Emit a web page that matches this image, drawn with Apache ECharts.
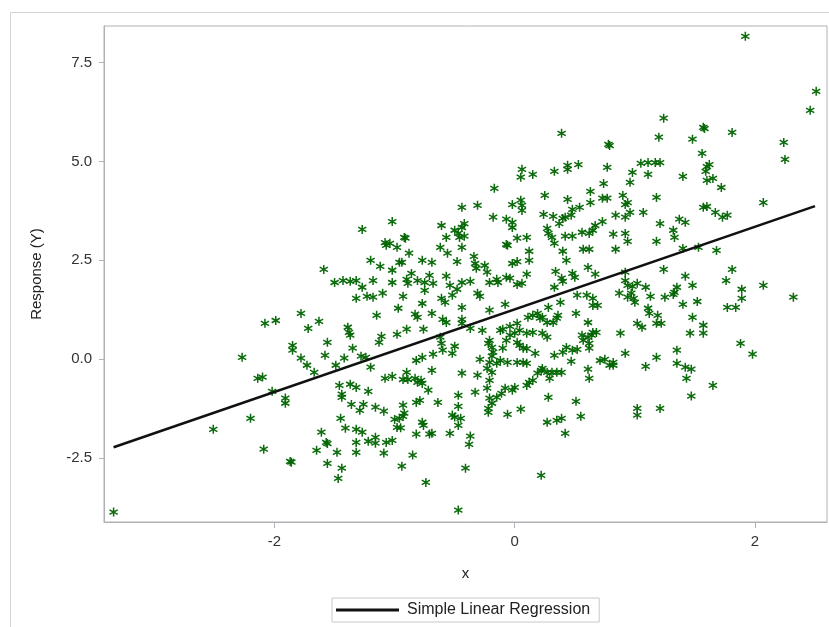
<!DOCTYPE html>
<html><head><meta charset="utf-8">
<script src="https://cdn.jsdelivr.net/npm/echarts@6/dist/echarts.min.js"></script>
<style>html,body{margin:0;padding:0;background:#fff}#chart{width:829px;height:627px}</style>
</head><body><div id="chart"></div>
<script>
// observations, grouped by area of the plot: [x, y]
const obsLeft = [[-1.27,3.28],[-1.08,2.95],[-1.07,2.88],[-1.20,2.50],[-1.12,2.35],[-1.59,2.27],[-1.50,1.94],[-1.43,1.99],[-1.37,1.97],[-1.32,1.99],[-1.18,1.99],[-1.27,1.82],
[-1.32,1.54],[-1.23,1.59],[-1.18,1.57],[-1.10,1.67],[-1.15,1.11],[-1.78,1.16],[-2.08,0.91],[-1.99,0.98],[-1.72,0.78],[-1.63,0.96],[-1.39,0.81],[-1.38,0.68],[-1.37,0.61],[-1.11,0.58],[-1.13,0.43],[-1.56,0.43],[-1.85,0.35],[-1.85,0.23],[-1.35,0.28],[-1.58,0.10],[-1.42,0.03],[-1.28,0.08],[-1.24,0.05],[-1.78,0.03],[-1.73,-0.15],[-1.49,-0.15],[-1.20,-0.20],[-2.27,0.05],[-1.67,-0.33],[-2.14,-0.48],[-2.10,-0.45],[-1.08,-0.48],[-2.02,-0.81],[-1.46,-0.66],[-1.37,-0.63],[-1.32,-0.71],[-1.22,-0.81],[-1.44,-0.88],[-1.44,-0.96],[-1.91,-0.98],[-1.91,-1.11],[-1.36,-1.14],[-1.26,-1.14],[-1.29,-1.29],[-1.16,-1.21],[-1.09,-1.31],[-2.20,-1.49],[-1.45,-1.49],[-2.51,-1.77],[-1.41,-1.74],[-1.32,-1.77],[-1.27,-1.84],[-1.61,-1.84],[-1.22,-2.07],[-1.16,-1.97],[-1.16,-2.12],[-1.07,-2.10],[-2.09,-2.27],[-1.65,-2.30],[-1.57,-2.10],[-1.56,-2.13],[-1.48,-2.35],[-1.32,-2.10],[-1.32,-2.35],[-1.09,-2.37],[-1.87,-2.58],[-1.86,-2.60],[-1.56,-2.63],[-1.44,-2.75],[-1.47,-3.01],[-3.34,-3.86]];
const obsCentreUpper = [[0.39,5.71],[0.78,5.43],[0.79,5.40],[0.77,4.85],[0.06,4.80],[0.05,4.60],[0.15,4.67],[0.33,4.75],[0.44,4.90],[0.44,4.80],[0.53,4.92],[-0.17,4.32],[0.63,4.24],[0.25,4.14],[0.74,4.44],[0.44,4.04],[0.73,4.07],[0.77,4.07],[0.63,3.96],[0.05,4.02],[0.06,3.89],[0.06,3.76],[-0.02,3.91],[-0.44,3.84],[-0.31,3.89],[0.54,3.84],[0.48,3.79],[-0.18,3.59],[-0.07,3.54],[-0.02,3.46],[-0.02,3.33],[0.24,3.66],[0.32,3.61],[0.40,3.56],[0.42,3.59],[0.37,3.43],[0.47,3.64],[0.73,3.48],[-1.02,3.48],[-0.61,3.38],[-0.42,3.43],[-0.44,3.33],[-0.50,3.26],[-0.47,3.18],[-0.46,3.08],[-0.42,3.11],[-0.57,3.08],[-0.92,3.08],[-0.91,3.06],[0.02,3.06],[0.10,3.08],[0.27,3.31],[0.28,3.18],[0.31,3.08],[0.33,2.93],[0.42,3.11],[0.48,3.11],[0.56,3.21],[0.62,3.18],[0.65,3.26],[0.67,3.38],[-0.98,2.83],[-1.04,2.93],[-0.62,2.83],[-0.44,2.83],[-0.07,2.90],[-0.06,2.88],[0.12,2.73],[0.57,2.78],[0.62,2.78],[0.40,2.73],[-0.88,2.68],[-0.96,2.45],[-0.94,2.45],[-0.56,2.68],[-0.77,2.50],[-0.69,2.45],[-0.48,2.47],[-0.34,2.60],[-0.33,2.42],[-0.32,2.30],[-0.25,2.37],[-0.23,2.20],[-0.02,2.42],[0.02,2.47],[0.12,2.50],[0.43,2.50],[0.61,2.32],[-1.02,2.25],[-0.86,2.17],[-0.57,2.10],[0.34,2.22],[0.48,2.17],[0.50,2.07],[0.67,2.15],[-0.90,2.02],[-0.89,1.92],[-0.81,1.99],[-0.75,1.94],[-0.71,2.12],[-0.68,1.92],[-0.44,1.94],[-0.37,1.97],[-0.21,1.94],[-0.15,2.02],[-0.14,1.94],[0.02,1.89],[0.06,1.92],[0.10,2.15],[0.39,2.05],[-1.02,1.94],[-0.54,1.87],[-0.07,2.07],[-0.04,2.05],[0.33,1.82],[0.40,1.97]];
const obsCentreLower = [[-0.93,1.59],[-0.75,1.74],[-0.61,1.54],[-0.58,1.44],[-0.52,1.62],[-0.77,1.41],[-0.97,1.29],[-0.44,1.31],[-0.31,1.67],[-0.29,1.59],[-0.21,1.24],[-0.08,1.39],[-0.83,1.14],[-0.81,1.06],[-0.69,1.16],[-0.60,1.01],[-0.57,0.93],[-0.44,1.01],[-0.44,0.91],[-0.37,0.78],[-0.27,0.73],[-0.98,0.63],[-0.90,0.76],[-0.76,0.76],[-0.62,0.56],[-0.61,0.40],[-0.60,0.23],[-0.52,0.15],[-0.50,0.33],[-0.68,0.13],[-0.77,0.05],[-0.82,-0.03],[-0.21,0.48],[-0.22,0.40],[-0.19,0.30],[-0.18,0.18],[-0.12,0.73],[-0.10,0.76],[-0.04,0.83],[-0.07,0.48],[-0.04,0.61],[0.00,0.66],[-0.10,0.28],[0.02,0.43],[0.04,0.35],[0.07,0.28],[0.10,0.27],[0.02,0.91],[0.04,0.73],[0.11,1.06],[0.15,1.11],[0.19,1.16],[0.21,1.04],[0.23,1.06],[0.27,0.93],[0.32,0.93],[0.35,1.04],[0.36,1.11],[0.10,0.66],[0.15,0.68],[0.23,0.66],[0.27,0.56],[0.17,0.15],[0.07,-0.08],[0.10,-0.10],[0.02,-0.08],[-0.06,-0.08],[-0.12,-0.03],[-0.15,-0.10],[-0.19,0.08],[-0.21,-0.08],[-0.29,0.00],[-0.23,-0.23],[-0.19,-0.33],[-0.21,-0.53],[-0.44,-0.35],[-0.31,-0.40],[-0.69,-0.28],[-0.90,-0.33],[-0.93,-0.51],[-0.89,-0.51],[-0.83,-0.48],[-0.78,-0.53],[-0.77,-0.61],[-0.81,-0.58],[-1.02,-0.43],[-0.72,-0.78],[-0.79,-1.04],[-0.82,-1.09],[-0.64,-1.09],[-0.93,-1.16],[-0.92,-1.36],[-0.93,-1.44],[-0.96,-1.49],[-1.00,-1.52],[-0.98,-1.72],[-0.95,-1.73],[-0.77,-1.59],[-0.76,-1.67],[-0.82,-1.89],[-0.69,-1.87],[-0.71,-1.89],[-1.02,-2.05],[-0.47,-0.91],[-0.47,-1.19],[-0.52,-1.41],[-0.50,-1.46],[-0.45,-1.49],[-0.47,-1.67],[-0.54,-1.87],[-0.37,-1.94],[-0.38,-2.15],[-0.33,-0.83],[-0.23,-0.73],[-0.21,-0.98],[-0.19,-1.11],[-0.22,-1.24],[-0.22,-1.34],[-0.15,-0.96],[-0.11,-0.86],[-0.08,-0.73],[-0.02,-0.78],[0.00,-0.71],[-0.06,-1.39],[0.05,-1.26],[0.10,-0.66],[0.12,-0.58],[0.15,-0.53],[0.19,-0.35],[0.22,-0.28],[0.23,-0.23],[0.27,-0.33],[0.29,-0.48],[0.31,-0.33],[0.35,-0.33],[0.39,-0.33],[0.33,0.10],[0.40,0.18],[0.43,0.30],[0.47,-0.05],[0.48,0.23],[0.52,0.25],[0.56,0.61],[0.57,0.48],[0.61,0.56],[0.64,0.61],[0.65,0.68],[0.68,0.68],[0.62,0.40],[0.62,0.28],[0.61,-0.25],[0.62,-0.48],[0.71,-0.03],[0.75,0.00],[0.79,-0.15],[0.51,1.16],[0.61,0.93],[0.52,1.62],[0.60,1.62],[0.65,1.54],[0.65,1.36],[0.69,1.36],[0.38,1.44],[0.28,-0.96],[0.51,-1.06],[0.55,-1.44],[0.27,-1.59],[0.35,-1.54],[0.39,-1.49],[0.42,-1.87],[-0.85,-2.42],[-0.94,-2.70],[-0.41,-2.75],[-0.74,-3.11],[0.22,-2.93],[-0.48,1.77],[0.28,1.31],[-0.47,-3.81]];
const obsRightUpper = [[1.92,8.16],[2.51,6.77],[2.46,6.29],[1.24,6.09],[1.57,5.86],[1.58,5.83],[1.81,5.73],[1.20,5.61],[1.48,5.56],[2.24,5.48],[1.56,5.20],[2.25,5.05],[1.05,4.95],[1.11,4.97],[1.17,4.97],[1.21,4.97],[1.60,4.87],[1.62,4.92],[1.59,4.75],[1.60,4.52],[1.65,4.57],[0.98,4.72],[1.11,4.67],[1.40,4.62],[0.96,4.47],[1.72,4.34],[0.90,4.14],[0.94,3.96],[0.92,3.91],[0.96,3.71],[0.92,3.59],[1.18,4.09],[2.07,3.96],[1.57,3.84],[1.60,3.86],[0.84,3.64],[1.07,3.71],[1.67,3.71],[1.73,3.59],[1.77,3.64],[1.21,3.43],[1.37,3.54],[1.42,3.46],[0.82,3.16],[0.92,3.18],[0.94,2.98],[1.32,3.26],[1.33,3.08],[1.18,2.98],[0.84,2.78],[1.40,2.80],[1.53,2.83],[1.68,2.75],[0.92,2.20],[0.92,1.99],[0.94,1.87],[0.98,1.84],[1.02,1.92],[1.09,1.82],[1.24,2.27],[1.42,2.10],[1.48,1.87],[1.35,1.82],[1.81,2.27],[1.76,1.99],[1.89,1.77],[2.07,1.87]];
const obsRightLower = [[0.87,1.67],[0.94,1.57],[0.99,1.54],[1.00,1.44],[0.97,1.67],[1.13,1.59],[1.25,1.57],[1.32,1.64],[1.33,1.69],[1.40,1.39],[1.52,1.46],[1.89,1.54],[1.77,1.31],[1.84,1.31],[2.32,1.57],[1.11,1.29],[1.12,1.16],[1.19,1.11],[1.18,0.91],[1.22,0.91],[1.02,0.91],[1.06,0.81],[1.48,1.06],[1.57,0.86],[1.57,0.66],[1.46,0.66],[0.88,0.66],[1.88,0.40],[1.98,0.13],[0.92,0.15],[0.82,-0.08],[0.82,-0.15],[1.09,-0.18],[1.18,0.05],[1.35,0.23],[1.35,-0.10],[1.42,-0.20],[1.47,-0.25],[1.43,-0.48],[1.65,-0.66],[1.47,-0.93],[1.02,-1.24],[1.02,-1.41],[1.21,-1.24]];

const regressionX = [-3.34, 2.50];
const regressionY = [-2.22, 3.87];
const xTicks = [-2, 0, 2];
const yTicks = [-2.5, 0, 2.5, 5, 7.5];
const xRange = [-3.42, 2.60];
const yRange = [-4.11, 8.42];
const xTitle = 'x';
const yTitle = 'Response (Y)';
const fitName = 'Simple Linear Regression';

const points = [].concat(obsLeft, obsCentreUpper, obsCentreLower, obsRightUpper, obsRightLower);
const fitLine = regressionX.map((x, i) => [x, regressionY[i]]);

const asterisk = 'path://M4.2 0H5.8V10H4.2Z M1.08 1.79L9.74 6.79L8.92 8.21L0.26 3.21Z M0.26 6.79L8.92 1.79L9.74 3.21L1.08 8.21Z';
const font = "'Liberation Sans', Arial, sans-serif";
const frameColor = '#aeb2b6';

const chart = echarts.init(document.getElementById('chart'), null, {renderer: 'canvas'});
chart.setOption({
  animation: false,
  backgroundColor: '#fff',
  textStyle: {fontFamily: font},
  graphic: [{
    type: 'rect', silent: true, z: -10,
    shape: {x: 10.5, y: 12.5, width: 840, height: 640},
    style: {fill: 'none', stroke: '#d4d4d4', lineWidth: 1}
  }],
  grid: {left: 104, top: 26, width: 723, height: 496, show: true, borderColor: frameColor, borderWidth: 1, backgroundColor: '#fff'},
  legend: {
    data: [{name: fitName, icon: 'rect'}], left: 332, top: 598, orient: 'horizontal',
    borderColor: '#c8c8c8', borderWidth: 1, padding: [4, 9, 4, 4],
    itemWidth: 63, itemHeight: 3,
    itemStyle: {color: '#111'},
    textStyle: {fontSize: 16, color: '#222', fontFamily: font, padding: [0, 0, 0, 3]}
  },
  xAxis: {
    type: 'value', min: xRange[0], max: xRange[1],
    name: xTitle, nameLocation: 'middle', nameGap: 44,
    nameTextStyle: {fontSize: 15, color: '#222', fontFamily: font},
    axisLine: {show: true, onZero: false, lineStyle: {color: frameColor}},
    axisTick: {show: true, customValues: xTicks, length: 6, lineStyle: {color: frameColor}},
    axisLabel: {customValues: xTicks, fontSize: 15, color: '#333', margin: 12, fontFamily: font, formatter: v => String(v)},
    splitLine: {show: false}
  },
  yAxis: {
    type: 'value', min: yRange[0], max: yRange[1],
    name: yTitle, nameLocation: 'middle', nameGap: 60, nameRotate: 90,
    nameTextStyle: {fontSize: 15, color: '#222', fontFamily: font},
    axisLine: {show: true, onZero: false, lineStyle: {color: frameColor}},
    axisTick: {show: true, customValues: yTicks, length: 5, lineStyle: {color: frameColor}},
    axisLabel: {customValues: yTicks, fontSize: 15, color: '#333', margin: 12, fontFamily: font, formatter: v => v.toFixed(1)},
    splitLine: {show: false}
  },
  series: [{
    name: 'Observations', type: 'scatter', data: points,
    symbol: asterisk, symbolSize: 9,
    itemStyle: {color: '#006400', opacity: 0.95}, z: 2
  }, {
    name: fitName, type: 'line', data: fitLine,
    symbol: 'none', showSymbol: false,
    lineStyle: {color: '#111', width: 2.6}, itemStyle: {color: '#111'}, z: 3
  }]
});
</script></body></html>
